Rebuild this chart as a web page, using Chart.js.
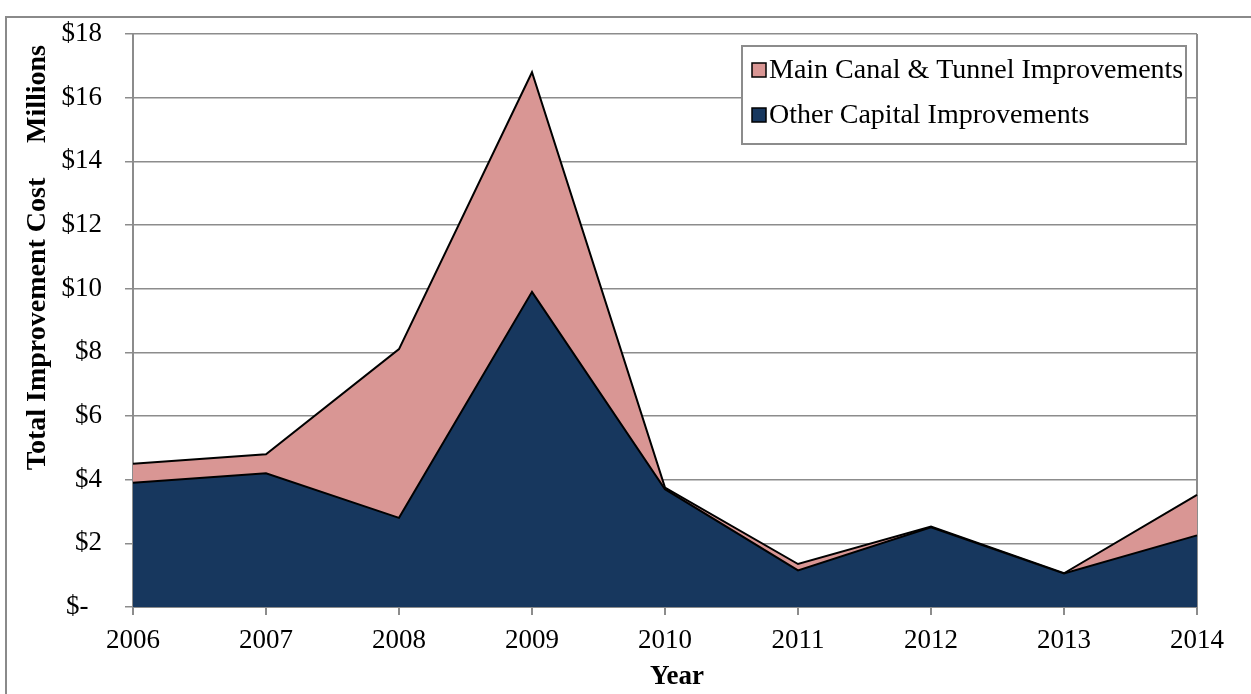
<!DOCTYPE html>
<html>
<head>
<meta charset="utf-8">
<script src="https://cdn.jsdelivr.net/npm/chart.js@4.4.0/dist/chart.umd.min.js"></script>
<style>
  html, body { margin: 0; padding: 0; background: #fff; overflow: hidden; }
  #wrap { position: absolute; left: 0; top: 0; width: 1251px; height: 694px; }
</style>
</head>
<body>
<div id="wrap"><canvas id="c" width="1251" height="694"></canvas></div>
<script>
// ---- data ----
const years = ['2006', '2007', '2008', '2009', '2010', '2011', '2012', '2013', '2014'];
const otherCapital = [3.9, 4.2, 2.8, 9.9, 3.7, 1.15, 2.5, 1.05, 2.25];
const mainCanalTunnel = [0.6, 0.6, 5.3, 6.9, 0.05, 0.2, 0.03, 0.01, 1.27];
const seriesLabels = ['Other Capital Improvements', 'Main Canal & Tunnel Improvements'];
const yTickValues = [0, 2, 4, 6, 8, 10, 12, 14, 16, 18];
const yAxisTitle = 'Total Improvement Cost';
const yUnitsLabel = 'Millions';
const xAxisTitle = 'Year';

const FONT = "'Liberation Serif', 'Times New Roman', serif";
const GRAY = '#8c8c8c';
const PINK = '#D99694';
const NAVY = '#17375E';

const decorPlugin = {
  id: 'decor',
  beforeDraw(chart) {
    const ctx = chart.ctx;
    ctx.save();
    ctx.strokeStyle = '#8a8a8a';
    ctx.lineWidth = 2;
    ctx.beginPath();
    ctx.moveTo(6, 700);
    ctx.lineTo(6, 17);
    ctx.lineTo(1260, 17);
    ctx.stroke();
    ctx.restore();
  },
  afterDraw(chart) {
    const ctx = chart.ctx;
    ctx.save();
    ctx.fillStyle = '#000';
    ctx.textAlign = 'center';
    ctx.textBaseline = 'middle';
    ctx.font = 'bold 28px ' + FONT;
    // y title
    ctx.save();
    ctx.translate(38, 324);
    ctx.rotate(-Math.PI / 2);
    ctx.fillText(yAxisTitle, 0, 0);
    ctx.restore();
    ctx.save();
    ctx.translate(38, 94);
    ctx.rotate(-Math.PI / 2);
    ctx.fillText(yUnitsLabel, 0, 0);
    ctx.restore();
    // x title
    ctx.font = 'bold 27px ' + FONT;
    ctx.fillText(xAxisTitle, 677, 677);

    // legend
    const lx = 742, ly = 46, lw = 444, lh = 98;
    ctx.fillStyle = '#fff';
    ctx.fillRect(lx, ly, lw, lh);
    ctx.strokeStyle = GRAY;
    ctx.lineWidth = 2;
    ctx.strokeRect(lx, ly, lw, lh);
    const ds = chart.data.datasets.slice().reverse();
    const rows = [70, 115];
    ctx.font = '28px ' + FONT;
    ctx.textAlign = 'left';
    ds.forEach((d, i) => {
      const cy = rows[i];
      ctx.fillStyle = d.backgroundColor;
      ctx.fillRect(752, cy - 7, 14, 14);
      ctx.strokeStyle = '#000';
      ctx.lineWidth = 1.5;
      ctx.strokeRect(752, cy - 7, 14, 14);
      ctx.fillStyle = '#000';
      ctx.fillText(d.label, 769, cy + 1);
    });
    ctx.restore();
  }
};

new Chart(document.getElementById('c'), {
  type: 'line',
  data: {
    labels: years,
    datasets: [
      {
        label: seriesLabels[0],
        data: otherCapital,
        fill: 'origin',
        backgroundColor: NAVY,
        borderColor: '#000',
        borderWidth: 2,
        pointRadius: 0,
        tension: 0
      },
      {
        label: seriesLabels[1],
        data: mainCanalTunnel,
        fill: '-1',
        backgroundColor: PINK,
        borderColor: '#000',
        borderWidth: 2,
        pointRadius: 0,
        tension: 0
      }
    ]
  },
  options: {
    responsive: false,
    animation: false,
    devicePixelRatio: 1,
    layout: { padding: { top: 34, right: 54, left: 0, bottom: 0 } },
    plugins: {
      legend: { display: false },
      tooltip: { enabled: false },
      title: { display: false }
    },
    scales: {
      x: {
        offset: false,
        grid: {
          display: true,
          drawOnChartArea: true,
          color: (c) => (c.index === years.length - 1 ? GRAY : 'rgba(0,0,0,0)'),
          tickColor: GRAY,
          tickLength: 8,
          lineWidth: 2
        },
        border: { display: true, color: GRAY, width: 2 },
        ticks: {
          color: '#000',
          font: { family: FONT, size: 27 },
          padding: 10,
          maxRotation: 0,
          autoSkip: false
        },
        afterFit: (s) => { s.height = 87; s.paddingLeft = 0; s.paddingRight = 0; }
      },
      y: {
        stacked: true,
        min: 0,
        max: 18,
        afterBuildTicks: (s) => { s.ticks = yTickValues.map(v => ({ value: v })); },
        grid: {
          color: GRAY,
          tickColor: GRAY,
          tickLength: 8,
          lineWidth: 1.5
        },
        border: { display: true, color: GRAY, width: 2 },
        ticks: {
          color: '#000',
          font: { family: FONT, size: 27 },
          padding: 23,
          callback: (v) => (v === 0 ? '$-  ' : '$' + v)
        },
        afterFit: (s) => { s.width = 133; s.paddingTop = 0; s.paddingBottom = 0; }
      }
    }
  },
  plugins: [decorPlugin]
});
</script>
</body>
</html>
